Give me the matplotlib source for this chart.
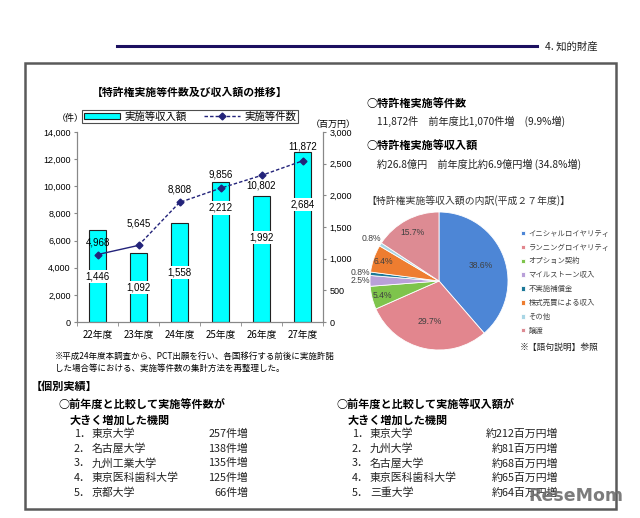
import matplotlib
matplotlib.use('Agg')
import matplotlib.pyplot as plt
from matplotlib.patches import Rectangle, Patch
from matplotlib.lines import Line2D
import numpy as np

plt.rcParams['font.family'] = ['Noto Sans CJK JP', 'DejaVu Sans']

# --- data ---
years = ['22年度', '23年度', '24年度', '25年度', '26年度', '27年度']
revenue = [1446, 1092, 1558, 2212, 1992, 2684]        # 百万円 (right axis)
cases = [4968, 5645, 8808, 9856, 10802, 11872]        # 件 (left axis)

pie_labels = ['イニシャルロイヤリティ', 'ランニングロイヤリティ', 'オプション契約',
              'マイルストーン収入', '不実施補償金', '株式売買による収入', 'その他', '譲渡']
pie_values = [38.6, 29.7, 5.4, 2.5, 0.8, 6.4, 0.8, 15.7]
pie_colors = ['#4d86d6', '#e2868e', '#7ec44c', '#b9a0d9', '#1b7898', '#ee7d30', '#a9d6e5', '#dd8b93']

case_rank_names = ['東京大学', '名古屋大学', '九州工業大学', '東京医科歯科大学', '京都大学']
case_rank_values = ['257件増', '138件増', '135件増', '125件増', '66件増']
rev_rank_names = ['東京大学', '九州大学', '名古屋大学', '東京医科歯科大学', '三重大学']
rev_rank_values = ['約212百万円増', '約81百万円増', '約68百万円増', '約65百万円増', '約64百万円増']

# label placement (layout only)
line_label_dy = [8.5, 15.5, 9.5, 10, -7.5, 10]          # points
bar_label_y = {3: 1800, 4: 1330, 5: 1860}               # override of centred labels
pie_label_r = [0.65, 0.6, 0.84, 1.14, 1.14, 0.85, 1.15, 0.8]

W, H = 640, 518
fig = plt.figure(figsize=(W / 100, H / 100), dpi=100)

# background canvas in pixel coords
bg = fig.add_axes([0, 0, 1, 1])
bg.set_xlim(0, W)
bg.set_ylim(H, 0)
bg.axis('off')

bg.plot([117, 537], [46, 46], color='#1c1060', lw=2.2)
bg.text(545, 47, '4. 知的財産', fontsize=7.5, va='center', color='#222')
bg.add_patch(Rectangle((25, 63), 591, 446, fill=False, edgecolor='#5a5a5a', lw=1.8))

bg.text(190, 93, '【特許権実施等件数及び収入額の推移】', fontsize=7.8, fontweight='bold',
        ha='center', va='center')
bg.text(70, 118, '（件）', fontsize=6.5, ha='center', va='center')
bg.text(333, 124, '（百万円）', fontsize=6.5, ha='center', va='center')

fn = ['※平成24年度本調査から、PCT出願を行い、各国移行する前後に実施許諾',
      'した場合等における、実施等件数の集計方法を再整理した。']
bg.text(55, 356, fn[0], fontsize=6.1, va='center')
bg.text(55, 368, fn[1], fontsize=6.1, va='center')

# right text block
bg.text(366, 103, '○特許権実施等件数', fontsize=8, fontweight='bold', va='center')
bg.text(377, 121, '11,872件　前年度比1,070件増　(9.9%増)', fontsize=7.3, va='center', color='#222')
bg.text(366, 146, '○特許権実施等収入額', fontsize=8, fontweight='bold', va='center')
bg.text(377, 164, '約26.8億円　前年度比約6.9億円増 (34.8%増)', fontsize=7.3, va='center', color='#222')
bg.text(366, 201, '【特許権実施等収入額の内訳(平成２７年度)】', fontsize=7.1, va='center', color='#333')

# bottom lists
bg.text(31, 386, '【個別実績】', fontsize=8, fontweight='bold', va='center')
for x0, head, names, vals, xr in [
        (58, '○前年度と比較して実施等件数が', case_rank_names, case_rank_values, 248),
        (336, '○前年度と比較して実施等収入額が', rev_rank_names, rev_rank_values, 558)]:
    bg.text(x0, 405, head, fontsize=8, fontweight='bold', va='center')
    bg.text(x0 + 12, 420, '大きく増加した機関', fontsize=8, fontweight='bold', va='center')
    for i, (n, v) in enumerate(zip(names, vals)):
        y = 434 + i * 14.7
        bg.text(x0 + 16, y, '%d．' % (i + 1), fontsize=7.8, va='center', color='#222')
        bg.text(x0 + 34, y, n, fontsize=7.8, va='center', color='#222')
        bg.text(xr, y, v, fontsize=7.8, va='center', ha='right', color='#222')

bg.text(576, 496, 'ReseMom', fontsize=12.5, fontweight='bold', ha='center', va='center',
        color='#6e6e6e', family='DejaVu Sans', alpha=0.9)

# --- combo chart ---
ax = fig.add_axes([77 / W, 1 - 322 / H, 246 / W, 190 / H])
ax2 = ax.twinx()
ax.set_zorder(ax2.get_zorder() + 1)
ax.patch.set_visible(False)

x = np.arange(len(years))
ax2.bar(x, revenue, width=0.42, color='#00ffff', edgecolor='#222', lw=0.8)
ax2.set_ylim(0, 3000)
ax2.set_yticks(np.arange(0, 3001, 500))
ax2.set_yticklabels(['{:,}'.format(v) for v in range(0, 3001, 500)],
                    fontsize=6.5, family='Liberation Sans')
for i, v in enumerate(revenue):
    yy = bar_label_y.get(i, v / 2)
    ax2.text(i, yy, '{:,}'.format(v), ha='center', va='center', fontsize=7,
             family='Liberation Sans',
             bbox=dict(facecolor='white', edgecolor='none', pad=1.2))

navy = '#23237a'
ax.plot(x[:2], cases[:2], color=navy, lw=1.0)
ax.plot(x[1:], cases[1:], color=navy, lw=1.0, ls=(0, (2.5, 1.5)))
ax.plot(x, cases, ls='none', marker='D', ms=3.5, color=navy)
for i, v in enumerate(cases):
    ax.annotate('{:,}'.format(v), (i, v), xytext=(0, line_label_dy[i]),
                textcoords='offset points', ha='center', va='center',
                fontsize=7, family='Liberation Sans')
ax.set_ylim(0, 14000)
ax.set_xlim(-0.5, len(years) - 0.5)
ax.set_yticks(np.arange(0, 14001, 2000))
ax.set_yticklabels(['{:,}'.format(v) for v in range(0, 14001, 2000)],
                   fontsize=6.5, family='Liberation Sans')
ax.set_xticks(x)
ax.set_xticklabels(years, fontsize=7)
ax.set_xticks(np.arange(-0.5, len(years), 1), minor=True)
ax.tick_params(axis='x', which='major', length=0, pad=6)
ax.tick_params(axis='x', which='minor', length=3, color='#888')
ax.tick_params(axis='y', length=2.5, color='#888', pad=2)
ax2.tick_params(axis='y', length=2.5, color='#888', pad=2)
for a in (ax, ax2):
    a.spines['top'].set_visible(False)
    for s in ('left', 'right', 'bottom'):
        a.spines[s].set_color('#888')
        a.spines[s].set_linewidth(0.8)

handles = [Patch(facecolor='#00ffff', edgecolor='#222', lw=0.8),
           Line2D([], [], color=navy, lw=1.0, ls=(0, (2.5, 1.5)), marker='D', ms=3.5)]
fig.legend(handles, ['実施等収入額', '実施等件数'], loc='center', ncol=2,
           bbox_to_anchor=(190 / W, 1 - 116.5 / H), fontsize=7.5, frameon=True,
           fancybox=False, edgecolor='#222', borderpad=0.15, handlelength=3.5,
           handleheight=0.45, columnspacing=1.6, handletextpad=0.4).get_frame().set_linewidth(0.8)

# --- pie ---
axp = fig.add_axes([370 / W, 1 - 350 / H, 138 / W, 138 / H])
wedges, _ = axp.pie(pie_values, colors=pie_colors, startangle=90, counterclock=False,
                    wedgeprops=dict(edgecolor='white', linewidth=0.6))
axp.set_xlim(-1, 1)
axp.set_ylim(-1, 1)
axp.set_aspect('equal')
for w, v, r in zip(wedges, pie_values, pie_label_r):
    ang = np.deg2rad((w.theta1 + w.theta2) / 2)
    axp.text(r * np.cos(ang), r * np.sin(ang), '%.1f%%' % v, ha='center', va='center',
             fontsize=6.2, color='#404040', family='Liberation Sans')

fig.legend(wedges, pie_labels, loc='upper left', bbox_to_anchor=(514 / W, 1 - 223 / H),
           frameon=False, fontsize=5.3, handlelength=0.55, handleheight=0.55,
           handletextpad=0.5, labelspacing=0.8, labelcolor='#404040')
bg.text(520, 347, '※【語句説明】参照', fontsize=6.3, va='center', color='#222')

fig.savefig('out.png', dpi=100)
